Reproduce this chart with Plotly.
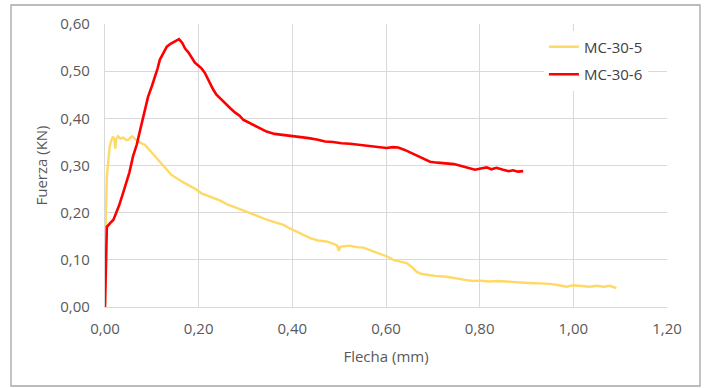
import plotly.graph_objects as go

# MC-30-5 (yellow)
x_mc305 = [0.000, 0.001, 0.002, 0.004, 0.007, 0.010, 0.014, 0.017, 0.020, 0.022, 0.024, 0.028, 0.033, 0.039,
           0.045, 0.050, 0.055, 0.058, 0.064, 0.071, 0.078, 0.085, 0.091, 0.096, 0.103, 0.110, 0.117, 0.124,
           0.133, 0.142, 0.152, 0.164, 0.175, 0.185, 0.195, 0.206, 0.218, 0.231, 0.245, 0.260, 0.274, 0.290,
           0.300, 0.310, 0.328, 0.345, 0.362, 0.381, 0.392, 0.402, 0.420, 0.438, 0.455, 0.473, 0.488, 0.496,
           0.499, 0.503, 0.523, 0.537, 0.552, 0.566, 0.580, 0.594, 0.605, 0.615, 0.630, 0.644, 0.655, 0.665,
           0.676, 0.687, 0.705, 0.729, 0.750, 0.772, 0.786, 0.800, 0.820, 0.840, 0.857, 0.880, 0.905, 0.928,
           0.950, 0.970, 0.985, 1.000, 1.020, 1.035, 1.050, 1.065, 1.078, 1.085, 1.092]
y_mc305 = [0.000, 0.120, 0.200, 0.277, 0.319, 0.340, 0.355, 0.361, 0.356, 0.336, 0.356, 0.362, 0.357, 0.359,
           0.354, 0.355, 0.360, 0.362, 0.356, 0.351, 0.347, 0.344, 0.337, 0.330, 0.323, 0.316, 0.308, 0.301,
           0.290, 0.280, 0.273, 0.266, 0.260, 0.255, 0.249, 0.241, 0.236, 0.231, 0.226, 0.218, 0.213, 0.206,
           0.204, 0.199, 0.192, 0.185, 0.180, 0.174, 0.168, 0.163, 0.155, 0.146, 0.141, 0.139, 0.134, 0.130,
           0.119, 0.128, 0.130, 0.127, 0.126, 0.121, 0.116, 0.110, 0.106, 0.100, 0.097, 0.093, 0.085, 0.075,
           0.070, 0.068, 0.066, 0.064, 0.060, 0.057, 0.055, 0.056, 0.054, 0.055, 0.054, 0.052, 0.051, 0.050,
           0.049, 0.046, 0.043, 0.046, 0.044, 0.043, 0.045, 0.043, 0.045, 0.043, 0.040]

# MC-30-6 (red)
x_mc306 = [0.000, 0.004, 0.011, 0.018, 0.024, 0.030, 0.038, 0.045, 0.052, 0.060, 0.068, 0.075, 0.081, 0.087,
           0.092, 0.100, 0.107, 0.112, 0.117, 0.124, 0.132, 0.140, 0.148, 0.158, 0.165, 0.171, 0.178, 0.185,
           0.192, 0.199, 0.206, 0.213, 0.222, 0.231, 0.238, 0.245, 0.255, 0.267, 0.278, 0.288, 0.295, 0.305,
           0.316, 0.330, 0.345, 0.362, 0.381, 0.400, 0.416, 0.435, 0.452, 0.470, 0.487, 0.505, 0.523, 0.540,
           0.557, 0.573, 0.590, 0.601, 0.615, 0.626, 0.640, 0.651, 0.662, 0.672, 0.684, 0.694, 0.710, 0.729,
           0.745, 0.757, 0.775, 0.790, 0.805, 0.815, 0.825, 0.836, 0.850, 0.862, 0.871, 0.882, 0.893]
y_mc306 = [0.000, 0.170, 0.178, 0.185, 0.200, 0.215, 0.240, 0.262, 0.285, 0.320, 0.345, 0.375, 0.400, 0.425,
           0.446, 0.468, 0.488, 0.505, 0.524, 0.538, 0.552, 0.558, 0.562, 0.568, 0.560, 0.548, 0.540, 0.530,
           0.518, 0.512, 0.506, 0.497, 0.478, 0.461, 0.450, 0.443, 0.432, 0.422, 0.412, 0.405, 0.397, 0.392,
           0.386, 0.378, 0.372, 0.367, 0.365, 0.362, 0.361, 0.358, 0.355, 0.351, 0.350, 0.347, 0.346, 0.344,
           0.343, 0.340, 0.338, 0.337, 0.339, 0.338, 0.333, 0.328, 0.323, 0.318, 0.312, 0.308, 0.306, 0.304,
           0.303, 0.300, 0.295, 0.291, 0.294, 0.296, 0.292, 0.295, 0.291, 0.288, 0.290, 0.287, 0.288]

x_ticks = [0.0, 0.2, 0.4, 0.6, 0.8, 1.0, 1.2]
y_ticks = [0.0, 0.1, 0.2, 0.3, 0.4, 0.5, 0.6]

FONT = "Open Sans"
GRAY = "#595959"

fig = go.Figure()
fig.add_trace(go.Scatter(x=x_mc305, y=y_mc305, mode="lines", name="MC-30-5", legendgroup="a",
                         line=dict(color="#FFD966", width=2.4)))
fig.add_trace(go.Scatter(x=x_mc306, y=y_mc306, mode="lines", name="MC-30-6", legendgroup="b",
                         line=dict(color="#FF0000", width=2.6)))

fig.update_layout(
    width=705, height=388,
    margin=dict(l=105, r=38, t=24, b=81),
    paper_bgcolor="white", plot_bgcolor="white",
    separators=", ",
    font=dict(family=FONT, size=15, color=GRAY),
    showlegend=True,
    legend=dict(x=0.781, y=0.977, xanchor="left", yanchor="top", bgcolor="white",
                font=dict(family=FONT, size=15, color="#404040"),
                tracegroupgap=5, itemwidth=30),
    xaxis=dict(range=[0, 1.2], tickvals=x_ticks, tickformat=".2f", showgrid=True,
               gridcolor="#D9D9D9", gridwidth=1.3, zeroline=False, showline=True,
               linecolor="#D9D9D9", linewidth=1.3, ticks="", mirror=False,
               ticklabelstandoff=8,
               title=dict(text="Flecha (mm)", font=dict(family=FONT, size=15, color=GRAY), standoff=14),
               tickfont=dict(family=FONT, size=15, color=GRAY)),
    yaxis=dict(range=[0, 0.6], tickvals=y_ticks, tickformat=".2f", showgrid=True,
               gridcolor="#D9D9D9", gridwidth=1.3, zeroline=False, showline=True,
               linecolor="#D9D9D9", linewidth=1.3, ticks="",
               ticklabelstandoff=11,
               title=dict(text="Fuerza (KN)", font=dict(family=FONT, size=15, color=GRAY), standoff=8),
               tickfont=dict(family=FONT, size=15, color=GRAY)),
    shapes=[dict(type="rect", xref="paper", yref="paper",
                 x0=(11 - 105) / 562, x1=(700 - 105) / 562,
                 y0=(307 - 386) / 283, y1=(307 - 5) / 283,
                 line=dict(color="#A6A6A6", width=1.3), fillcolor="rgba(0,0,0,0)", layer="below")],
)

fig.write_html("out.html")
